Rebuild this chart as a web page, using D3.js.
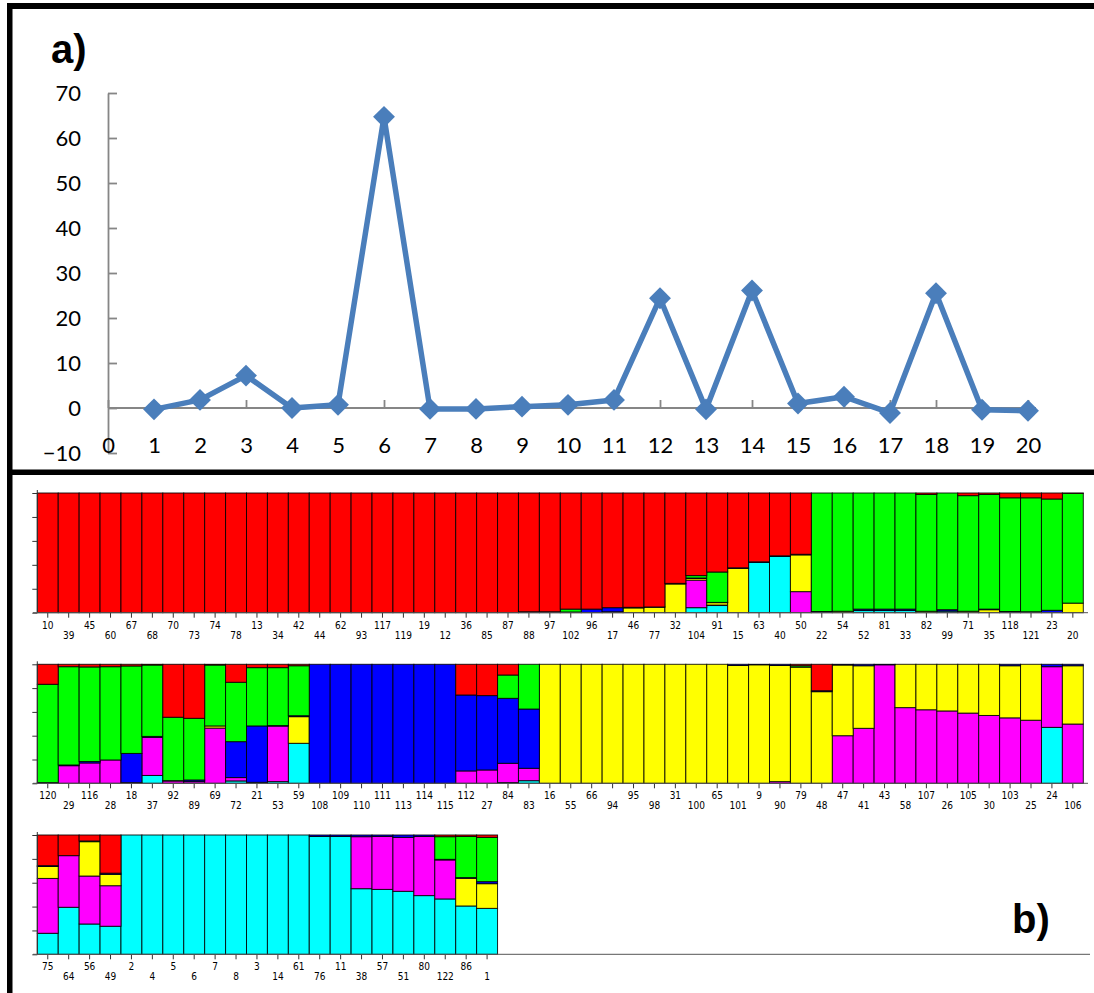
<!DOCTYPE html>
<html><head><meta charset="utf-8">
<script src="https://cdn.jsdelivr.net/npm/d3@7"></script>
<style>html,body{margin:0;padding:0;background:#fff;} svg{display:block;}</style>
</head><body><svg id="c" width="1094" height="993"></svg>
<script>
// ---------- Panel a data ----------
const kValues = d3.range(1, 21);
const deltaK = [-0.3, 1.8, 7.2, 0, 0.7, 64.7, -0.2, -0.2, 0.3, 0.7, 1.8, 24.4, -0.3, 26.1, 1.0, 2.5, -1.1, 25.5, -0.4, -0.6];
const xTickValues = d3.range(0, 21);
const yTickValues = d3.range(-10, 71, 10);

// ---------- Panel b data ----------
const samples = [
  10,39,45,60,67,68,70,73,74,78,13,34,42,44,62,93,117,119,19,12,36,85,87,88,97,102,96,17,46,77,32,104,91,15,63,40,50,22,54,52,81,33,82,99,71,35,118,121,23,20,
  120,29,116,28,18,37,92,89,69,72,21,53,59,108,109,110,111,113,114,115,112,27,84,83,16,55,66,94,95,98,31,100,65,101,9,90,79,48,47,41,43,58,107,26,105,30,103,25,24,106,
  75,64,56,49,2,4,5,6,7,8,3,14,61,76,11,38,57,51,80,122,86,1
];
const red = [
  1,1,1,1,1,1,1,1,1,1, 1,1,1,1,1,1,1,1,1,1, 1,1,1,.992,.992,.97,.97,.958,.955,.952,
  .755,.69,.66,.625,.575,.525,.512,0,0,0, 0,0,.012,0,.022,.012,.04,.04,.05,.003,
  .168,.02,.022,.02,.014,.006,.445,.454,.006,.151, .028,.028,.012,0,0,0,0,0,0,0,
  .258,.263,.09,0,0,0,0,0,0,0, 0,0,0,0,0,0,.012,.222,0,0, 0,0,0,0,0,0,0,0,0,0,
  .257,.173,.05,.32,0,0,0,0,0,0, 0,0,0,0,0,0,0,0,0,.014, .012,.02
];
const green = [
  0,0,0,0,0,0,0,0,0,0, 0,0,0,0,0,0,0,0,0,0, 0,0,0,0,0,.024,0,0,0,0,
  0,.02,.254,0,0,0,0,.99,.988,.97, .97,.97,.976,.975,.966,.958,.95,.952,.93,.917,
  .826,.826,.795,.784,.735,.6,.533,.518,.512,.499, .49,.487,.42,0,0,0,0,0,0,0,
  0,0,.196,.376,0,0,0,0,0,0, 0,0,0,0,0,0,.012,0,0,0, 0,0,0,0,0,0,0,0,0,0,
  0,0,.006,0,0,0,0,0,0,0, 0,0,0,0,0,0,0,0,0,.19, .345,.371
];
const blue = [
  0,0,0,0,0,0,0,0,0,0, 0,0,0,0,0,0,0,0,0,0, 0,0,0,.008,.008,.006,.03,.034,.005,.002,
  .005,.004,.002,.005,.005,.005,.005,.01,0,.012, .012,.012,0,.012,0,.005,.01,.008,.02,0,
  .006,.006,.012,0,.245,.008,.002,.014,0,.302, .474,.004,.008,1,1,1,1,1,1,1,
  .638,.625,.546,.498,0,0,0,0,0,0, 0,0,0,.01,.004,.01,0,.008,.006,.012, .004,0,0,0,0,0,.012,0,.02,.012,
  .007,0,0,.01,0,0,0,0,0,0, 0,0,0,.012,.012,.014,.012,.02,.012,.005, .006,.017
];
const yellow = [
  0,0,0,0,0,0,0,0,0,0, 0,0,0,0,0,0,0,0,0,0, 0,0,0,0,0,0,0,.008,.04,.046,
  .24,.014,.02,.37,0,0,.307,0,.012,0, 0,0,.012,0,.012,.025,0,0,0,.08,
  0,0,0,0,0,0,0,0,.018,0, 0,0,.224,0,0,0,0,0,0,0,
  0,0,0,0,1,1,1,1,1,1, 1,1,1,.99,.996,.976,.976,.77,.594,.526, 0,.364,.382,.392,.41,.43,.438,.47,0,.49,
  .1,0,.288,.095,0,0,0,0,0,0, 0,0,0,0,0,0,0,0,0,0, .232,.207
];
const magenta = [
  0,0,0,0,0,0,0,0,0,0, 0,0,0,0,0,0,0,0,0,0, 0,0,0,0,0,0,0,0,0,0,
  0,.23,.004,0,0,0,.176,0,0,0, 0,0,0,0,0,0,0,0,0,0,
  0,.148,.171,.196,.006,.32,.02,.014,.464,.028, 0,.467,0,0,0,0,0,0,0,0,
  .104,.112,.162,.104,0,0,0,0,0,0, 0,0,0,0,0,.014,0,0,.4,.462, .996,.636,.618,.608,.59,.57,.55,.53,.51,.498,
  .46,.433,.402,.34,0,0,0,0,0,0, 0,0,0,0,0,.436,.444,.452,.496,.327, 0,0
];
const cyan = [
  0,0,0,0,0,0,0,0,0,0, 0,0,0,0,0,0,0,0,0,0, 0,0,0,0,0,0,0,0,0,0,
  0,.042,.06,0,.42,.47,0,0,0,.018, .018,.018,0,.013,0,0,0,0,0,0,
  0,0,0,0,0,.066,0,0,0,.02, .008,.014,.336,0,0,0,0,0,0,0,
  0,0,.006,.022,0,0,0,0,0,0, 0,0,0,0,0,0,0,0,0,0, 0,0,0,0,0,0,0,0,.47,0,
  .176,.394,.254,.235,1,1,1,1,1,1, 1,1,1,.988,.988,.55,.544,.528,.492,.464, .405,.385
];
const clusterKeys = ["cyan", "magenta", "yellow", "blue", "green", "red"]; // bottom -> top
const clusterColors = {cyan:"#00FFFF", magenta:"#FF00FF", yellow:"#FFFF00", blue:"#0000FF", green:"#00FF00", red:"#FF0000"};
const barTickValues = [0, 0.2, 0.4, 0.6, 0.8, 1];

// ---------- drawing ----------
const svg = d3.select("#c");

// frame
svg.append("rect").attr("x", 7).attr("y", 3).attr("width", 1087).attr("height", 6).attr("fill", "#000");
svg.append("rect").attr("x", 7).attr("y", 3).attr("width", 5.5).attr("height", 990).attr("fill", "#000");
svg.append("rect").attr("x", 7).attr("y", 469.5).attr("width", 1087).attr("height", 5.5).attr("fill", "#000");

// ----- Panel a -----
const xA = d3.scaleLinear().domain([0, 20]).range([108, 1028]);
const yA = d3.scaleLinear().domain([-10, 70]).range([453, 93]);
const axisGray = "#868686";
const tickFont = "Lato, 'Open Sans', sans-serif";

const gy = svg.append("g").attr("transform", `translate(${xA(0)},0)`)
  .call(d3.axisLeft(yA).tickValues(yTickValues).tickSizeInner(-9).tickSizeOuter(0).tickPadding(27));
gy.select(".domain").attr("stroke", axisGray).attr("stroke-width", 1.8);
gy.selectAll(".tick line").attr("stroke", axisGray).attr("stroke-width", 1.8);
gy.selectAll(".tick text").attr("font-family", tickFont).attr("font-size", 22).attr("fill", "#000");

const gx = svg.append("g").attr("transform", `translate(0,${yA(0)})`)
  .call(d3.axisBottom(xA).tickValues(xTickValues).tickSizeInner(-8).tickSizeOuter(0).tickPadding(29));
gx.select(".domain").remove();
gx.append("line").attr("x1", xA(0)).attr("x2", 1036).attr("y1", 0).attr("y2", 0)
  .attr("stroke", axisGray).attr("stroke-width", 1.8);
gx.selectAll(".tick line").attr("stroke", axisGray).attr("stroke-width", 1.8);
gx.selectAll(".tick text").attr("font-family", tickFont).attr("font-size", 22).attr("fill", "#000");

const lineColor = "#4A7EBB";
svg.append("path")
  .datum(kValues.map((k, i) => [k, deltaK[i]]))
  .attr("fill", "none").attr("stroke", lineColor).attr("stroke-width", 5.5).attr("stroke-linejoin", "round")
  .attr("d", d3.line().x(d => xA(d[0])).y(d => yA(d[1])));
svg.append("g").selectAll("path").data(kValues.map((k, i) => [k, deltaK[i]])).join("path")
  .attr("d", d3.symbol().type(d3.symbolSquare).size(240))
  .attr("transform", d => `translate(${xA(d[0])},${yA(d[1])}) rotate(45)`)
  .attr("fill", lineColor);

svg.append("text").attr("x", 51).attr("y", 63).text("a)")
  .attr("font-family", "'Liberation Sans', Arial, sans-serif").attr("font-weight", "bold").attr("font-size", 40).attr("fill", "#000");

// ----- Panel b -----
const records = samples.map((s, i) => ({sample: s, cyan: cyan[i], magenta: magenta[i], yellow: yellow[i], blue: blue[i], green: green[i], red: red[i]}));
const stacked = d3.stack().keys(clusterKeys)(records);

const rows = [
  {start: 0, end: 50, top: 493, bottom: 612.7, lineEnd: 1088},
  {start: 50, end: 100, top: 664.3, bottom: 783.3, lineEnd: 1088},
  {start: 100, end: 122, top: 835, bottom: 954.3, lineEnd: 1090}
];
const xB = d3.scaleBand().domain(d3.range(50)).range([37.3, 37.3 + 50 * 20.92]).padding(0);
const labelFont = "'Liberation Sans Narrow', 'DejaVu Sans Condensed', 'Liberation Sans', sans-serif";

rows.forEach(row => {
  const yB = d3.scaleLinear().domain([0, 1]).range([row.bottom, row.top]);
  const g = svg.append("g");
  stacked.forEach(layer => {
    const key = layer.key;
    const segs = layer.map((d, i) => ({pos: i - row.start, y0: d[0], y1: Math.min(1, d[1]), i}))
      .filter(d => d.i >= row.start && d.i < row.end && d.y1 - d.y0 > 0);
    g.selectAll(null).data(segs).join("rect")
      .attr("x", d => xB(d.pos))
      .attr("width", xB.bandwidth())
      .attr("y", d => yB(d.y1))
      .attr("height", d => yB(d.y0) - yB(d.y1))
      .attr("fill", clusterColors[key])
      .attr("stroke", "#000").attr("stroke-opacity", 0.85).attr("stroke-width", 1);
  });
  const ga = g.append("g").attr("transform", `translate(37.3,0)`)
    .call(d3.axisLeft(yB).tickValues(barTickValues).tickSize(5).tickSizeOuter(0).tickFormat(""));
  ga.select(".domain").remove();
  ga.append("line").attr("x1", 0).attr("x2", 0).attr("y1", row.top - 3).attr("y2", row.bottom).attr("stroke", "#333");
  ga.selectAll(".tick line").attr("stroke", "#333");
  const n = row.end - row.start;
  const gb = g.append("g").attr("transform", `translate(0,${row.bottom})`)
    .call(d3.axisBottom(xB).tickValues(d3.range(n)).tickSize(5).tickSizeOuter(0)
      .tickFormat(p => samples[row.start + p]));
  gb.select(".domain").remove();
  gb.append("line").attr("x1", 33).attr("x2", row.lineEnd).attr("y1", 0).attr("y2", 0).attr("stroke", "#555");
  gb.selectAll(".tick line").attr("stroke", "#333");
  gb.selectAll(".tick text")
    .attr("font-family", labelFont).attr("font-size", 10).attr("fill", "#000")
    .attr("dy", null)
    .attr("y", p => (p % 2 === 0 ? 16 : 26));
});

svg.append("text").attr("x", 1012).attr("y", 933).text("b)")
  .attr("font-family", "'Liberation Sans', Arial, sans-serif").attr("font-weight", "bold").attr("font-size", 40).attr("fill", "#000");
</script>
</body></html>
